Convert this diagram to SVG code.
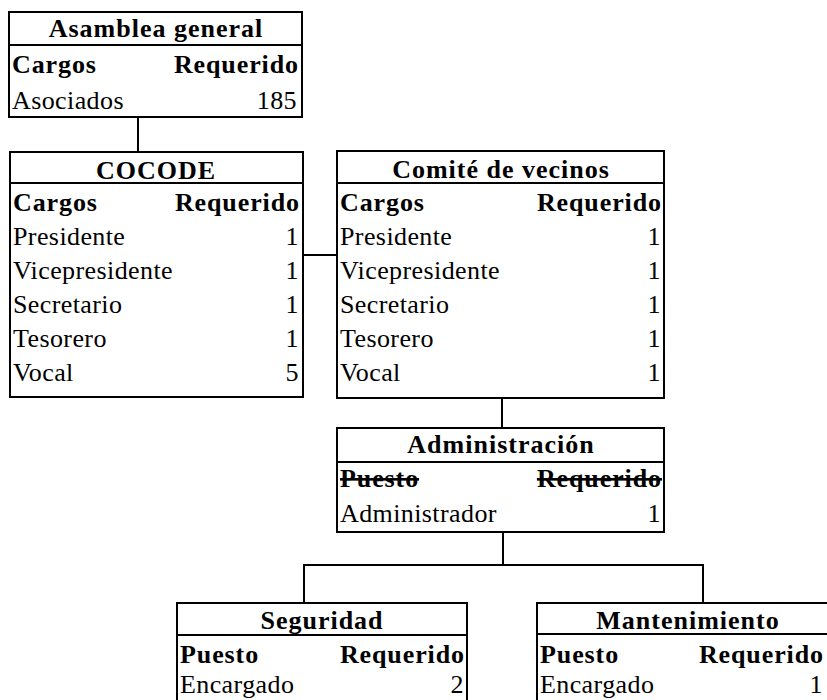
<svg xmlns="http://www.w3.org/2000/svg" width="827" height="700" viewBox="0 0 827 700">
<style>
.box{fill:#fff;stroke:#000;stroke-width:2}
.sep{stroke:#000;stroke-width:2}
.con{stroke:#000;stroke-width:2;fill:none}
text{font-family:"Liberation Serif","Times New Roman",serif;font-size:26px;fill:#000;letter-spacing:0.4px}
.t{font-weight:bold;text-anchor:middle;letter-spacing:1px}
.h{font-weight:bold;letter-spacing:0.9px}
.r{text-anchor:end}
.s{text-decoration:line-through}
</style>
<rect width="827" height="700" fill="#fff"/>
<g id="connectors">
<line class="con" x1="138" y1="117" x2="138" y2="152"/>
<line class="con" x1="303" y1="255" x2="337" y2="255"/>
<line class="con" x1="502" y1="398" x2="502" y2="428"/>
<polyline class="con" points="503,532 503,565"/>
<polyline class="con" points="304,603 304,565 703,565 703,603"/>
</g>
<g id="asamblea">
<rect class="box" x="9" y="12" width="293" height="105"/>
<line class="sep" x1="9" y1="45" x2="302" y2="45"/>
<text class="t" x="156" y="37">Asamblea general</text>
<text class="h" x="12" y="73">Cargos</text>
<text class="h r" x="299" y="73">Requerido</text>
<text x="12" y="109">Asociados</text>
<text class="r" x="297" y="109">185</text>
</g>
<g id="cocode">
<rect class="box" x="10" y="152" width="293" height="245"/>
<line class="sep" x1="10" y1="183" x2="303" y2="183"/>
<text class="t" x="156" y="179">COCODE</text>
<text class="h" x="13" y="211">Cargos</text>
<text class="h r" x="300" y="211">Requerido</text>
<text x="13" y="245">Presidente</text><text class="r" x="299" y="245">1</text>
<text x="13" y="279">Vicepresidente</text><text class="r" x="299" y="279">1</text>
<text x="13" y="313">Secretario</text><text class="r" x="299" y="313">1</text>
<text x="13" y="347">Tesorero</text><text class="r" x="299" y="347">1</text>
<text x="13" y="381">Vocal</text><text class="r" x="299" y="381">5</text>
</g>
<g id="comite">
<rect class="box" x="337" y="151" width="327" height="247"/>
<line class="sep" x1="337" y1="183" x2="664" y2="183"/>
<text class="t" x="501" y="178">Comité de vecinos</text>
<text class="h" x="340" y="211">Cargos</text>
<text class="h r" x="662" y="211">Requerido</text>
<text x="340" y="245">Presidente</text><text class="r" x="661" y="245">1</text>
<text x="340" y="279">Vicepresidente</text><text class="r" x="661" y="279">1</text>
<text x="340" y="313">Secretario</text><text class="r" x="661" y="313">1</text>
<text x="340" y="347">Tesorero</text><text class="r" x="661" y="347">1</text>
<text x="340" y="381">Vocal</text><text class="r" x="661" y="381">1</text>
</g>
<g id="administracion">
<rect class="box" x="337" y="428" width="327" height="104"/>
<line class="sep" x1="337" y1="462" x2="664" y2="462"/>
<text class="t" x="501" y="453">Administración</text>
<text class="h s" x="340" y="487">Puesto</text>
<text class="h r s" x="662" y="487">Requerido</text>
<text x="340" y="522">Administrador</text>
<text class="r" x="661" y="522">1</text>
</g>
<g id="seguridad">
<rect class="box" x="177" y="603" width="290" height="110"/>
<line class="sep" x1="177" y1="635" x2="467" y2="635"/>
<text class="t" x="322" y="629">Seguridad</text>
<text class="h" x="180" y="663">Puesto</text>
<text class="h r" x="465" y="663">Requerido</text>
<text x="180" y="693">Encargado</text>
<text class="r" x="464" y="693">2</text>
</g>
<g id="mantenimiento">
<rect class="box" x="537" y="603" width="300" height="110"/>
<line class="sep" x1="537" y1="634" x2="837" y2="634"/>
<text class="t" x="688" y="629">Mantenimiento</text>
<text class="h" x="540" y="663">Puesto</text>
<text class="h r" x="824" y="663">Requerido</text>
<text x="540" y="693">Encargado</text>
<text class="r" x="823" y="693">1</text>
</g>
</svg>
